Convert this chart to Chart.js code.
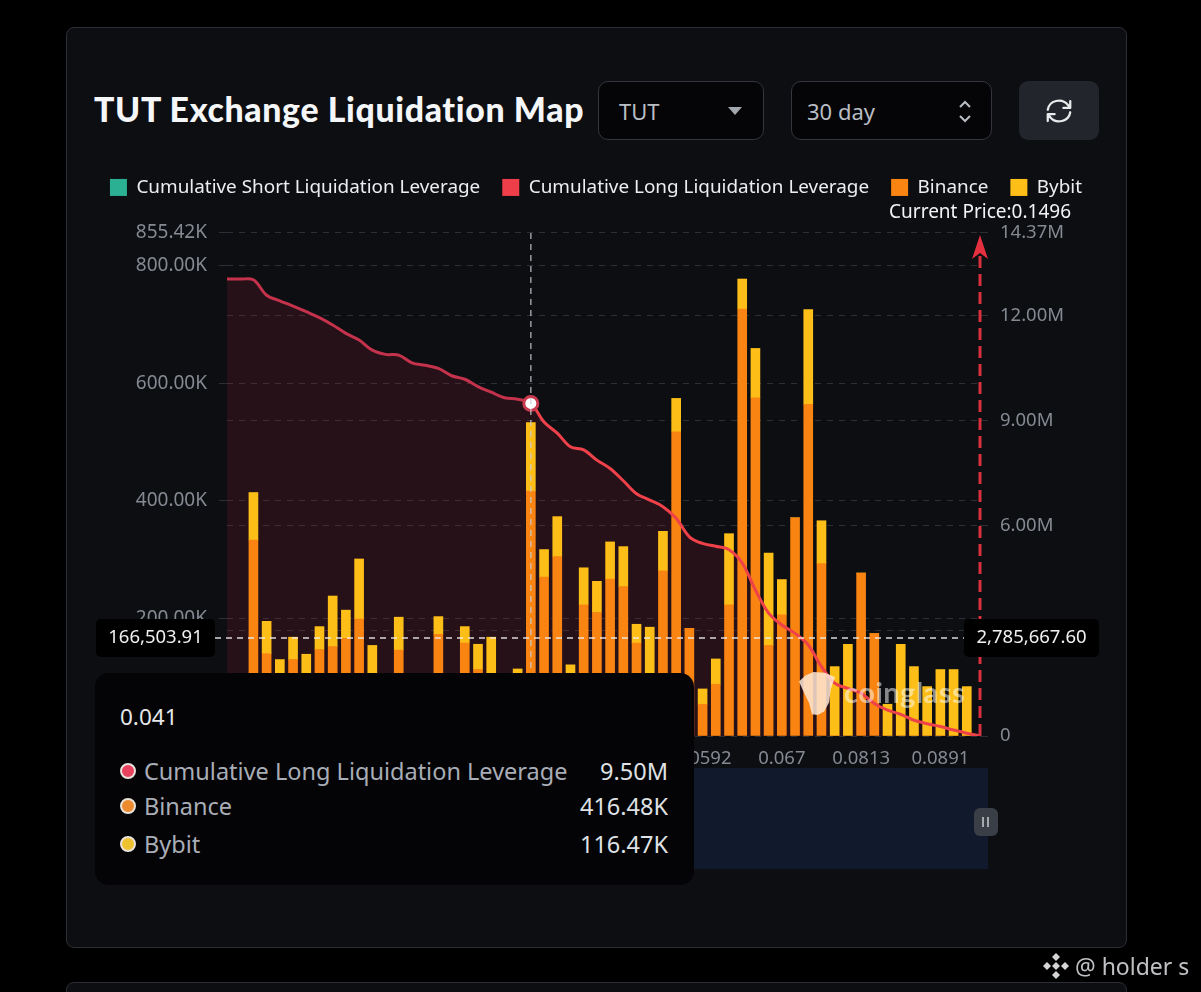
<!DOCTYPE html>
<html>
<head>
<meta charset="utf-8">
<title>TUT Exchange Liquidation Map</title>
<script src="https://cdn.jsdelivr.net/npm/chart.js@4"></script>
<style>
  html, body { margin: 0; background: #000; }
  body { width: 1201px; height: 992px; position: relative; overflow: hidden; font-family: "Noto Sans", sans-serif; }
  .card { position: absolute; left: 66px; top: 27px; width: 1059px; height: 919px; background: #0c0e12; border: 1px solid #2c2f35; border-radius: 8px; }
  .card2 { position: absolute; left: 66px; top: 982px; width: 1059px; height: 40px; background: #0c0e12; border: 1px solid #2c2f35; border-radius: 8px; }
  h1 { position: absolute; left: 94px; top: 87px; margin: 0; font: 900 33.8px/44px Lato, sans-serif; color: #f4f6f8; letter-spacing: 0.65px; white-space: nowrap; }
  .ctl { position: absolute; top: 81px; height: 57px; background: #050507; border: 1px solid #33363c; border-radius: 10px; color: #b9bdc4; font-size: 22px; line-height: 59px; box-sizing: content-box; }
  .ctl span { position: absolute; left: 20px; }
  .ctl svg { position: absolute; }
  #refresh { position: absolute; left: 1019px; top: 81px; width: 80px; height: 59px; background: #22252b; border-radius: 9px; }
  #refresh svg { position: absolute; left: 25px; top: 15px; }
  #slider { position: absolute; left: 227px; top: 768px; width: 761px; height: 101px; background: #101a2c; }
  #handle { position: absolute; left: 974px; top: 808px; width: 24px; height: 28px; background: #3a3e46; border-radius: 6px; }
  #handle::after { content: ""; position: absolute; left: 8px; top: 9px; width: 3px; height: 10px; border-left: 2px solid #a4a8af; border-right: 2px solid #a4a8af; }
  canvas { position: absolute; left: 0; top: 0; }
  #mark { position: absolute; left: 844px; top: 674px; font: 700 29px/36px Lato, sans-serif; color: rgba(255,255,255,0.5); letter-spacing: 0.5px; }
  #markIcon { position: absolute; left: 799px; top: 672px; width: 36px; height: 43px; background: rgba(255,232,214,0.85);
    clip-path: polygon(0 22%, 18% 8%, 40% 0, 72% 2%, 100% 12%, 88% 40%, 84% 70%, 70% 92%, 52% 100%, 36% 98%, 28% 72%, 14% 48%); }
  #tip { position: absolute; left: 95px; top: 673px; width: 599px; height: 212px; background: #040406; border-radius: 14px; color: #a9adb6; font-size: 23.5px; }
  #tip .head { position: absolute; left: 25px; top: 29px; color: #e6e7e9; font-size: 22.5px; line-height: 30px; }
  #tip .row { position: absolute; left: 25px; right: 26px; height: 36px; line-height: 36px; }
  #tip .dot { position: absolute; left: 0; top: 10px; width: 12px; height: 12px; border-radius: 50%; border: 2px solid #e9e2da; }
  #tip .lab { position: absolute; left: 24px; white-space: nowrap; }
  #tip .val { position: absolute; right: 0; color: #dfe1e4; }
  #sign { position: absolute; left: 1075px; top: 948px; color: #bfc1c4; font-size: 23px; line-height: 36px; white-space: nowrap; }
  #signIcon { position: absolute; left: 1042px; top: 952px; }
</style>
</head>
<body>
<div class="card"></div>
<div class="card2"></div>
<h1>TUT Exchange Liquidation Map</h1>
<div class="ctl" style="left:598px;width:164px"><span>TUT</span>
  <svg style="left:129px;top:25px" width="14" height="8"><path d="M0 0h14l-7 8z" fill="#a3a7ae"/></svg></div>
<div class="ctl" style="left:791px;width:199px"><span style="left:15px">30 day</span>
  <svg style="left:166px;top:17px" width="14" height="25" fill="none" stroke="#b9bdc4" stroke-width="2"><path d="M2 8l5-5 5 5M2 17l5 5 5-5"/></svg></div>
<div id="refresh"><svg width="30" height="30" viewBox="0 0 24 24" fill="none" stroke="#e8eaec" stroke-width="1.8" stroke-linecap="round" stroke-linejoin="round"><path d="M3 11a9 8.5 0 0 1 16-4l2 2.5M21 4v5.5h-5.5M21 13a9 8.5 0 0 1-16 4l-2-2.5M3 20v-5.5h5.5"/></svg></div>
<div id="slider"></div>
<div id="handle"></div>
<canvas id="chart" width="1201" height="992"></canvas>
<div id="markIcon"></div>
<div id="mark">coinglass</div>
<div id="tip"></div>
<svg id="signIcon" width="28" height="28" viewBox="0 0 28 28" fill="#d4d5d7"><path d="M14 1l4 4-4 4-4-4zM5 10l4 4-4 4-4-4zM23 10l4 4-4 4-4-4zM14 10l4 4-4 4-4-4zM14 19l4 4-4 4-4-4z"/></svg>
<div id="sign">@ holder s</div>
<script>
const prices = [
  "0.0111", "0.0124", "0.0137", "0.0150", "0.0163", "0.0176", "0.0189", "0.0202", "0.0215", "0.0228",
  "0.0241", "0.0254", "0.0267", "0.0280", "0.0293", "0.0306", "0.0319", "0.0332", "0.0345", "0.0358",
  "0.0371", "0.0384", "0.0397", "0.041", "0.0424", "0.0438", "0.0452", "0.0466", "0.048", "0.0494",
  "0.0508", "0.0522", "0.0536", "0.055", "0.0564", "0.0578", "0.0592", "0.0605", "0.0618", "0.0631",
  "0.0644", "0.0657", "0.067", "0.0694", "0.0718", "0.0742", "0.0766", "0.079", "0.0813", "0.0826",
  "0.0839", "0.0852", "0.0865", "0.0878", "0.0891", "0.0904", "0.0917", "0.093"
];
// K
const binance = [
  0, 0, 333, 140, 63, 130, 73, 147, 152, 166,
  199, 73, 0, 146, 0, 0, 173, 0, 158, 113,
  63, 0, 73, 416.48, 270, 305, 63, 223, 210, 267,
  254, 158, 73, 281, 517, 183, 54, 88, 223, 726,
  575, 154, 206, 371, 564, 293, 0, 0, 277, 174,
  0, 0, 0, 0, 0, 0, 0, 0
];
const bybit = [
  0, 0, 81, 55, 67, 38, 66, 39, 86, 48,
  102, 81, 0, 56, 0, 0, 30, 0, 28, 43,
  105, 0, 41, 116.47, 47, 68, 58, 63, 53, 63,
  68, 32, 112, 67, 57, 0, 26, 43, 121, 51,
  84, 157, 60, 0, 161, 73, 118, 156, 0, 0,
  54, 156, 118, 84, 113, 113, 84, 0
];
// M, right axis
const cumulativeLong = [
  13.05, 13.05, 13.03, 12.59, 12.43, 12.28, 12.12, 11.95, 11.74, 11.5,
  11.31, 11.02, 10.9, 10.88, 10.66, 10.59, 10.5, 10.29, 10.19, 9.98,
  9.82, 9.66, 9.62, 9.5, 8.97, 8.65, 8.26, 8.17, 7.88, 7.64,
  7.29, 6.92, 6.74, 6.55, 6.22, 5.69, 5.5, 5.42, 5.32, 4.94,
  4.17, 3.51, 3.17, 2.93, 2.6, 1.98, 1.51, 1.36, 1.22, 0.93,
  0.74, 0.62, 0.45, 0.35, 0.27, 0.17, 0.08, 0
];
const cumulativeShort = [];
const leftTicks = [0, 200, 400, 600, 800, 855.42];
const rightTicks = [0, 3, 6, 9, 12, 14.37];

const hoverIndex = 23;
const hoverLeft = 166.50391;
const font = "'Noto Sans'";
const gridColor = "#2b2e34";
const tickColor = "#858a92";

// gap between legend and plot
const legendMargin = {
  id: "legendMargin",
  beforeInit(chart) {
    const fit = chart.legend.fit;
    chart.legend.fit = function () {
      fit.call(this);
      this.height += 26;
    };
  },
};

const crosshair = {
  id: "crosshair",
  afterDatasetsDraw(chart) {
    const { ctx, chartArea, scales } = chart;
    const x = scales.x.getPixelForValue(hoverIndex);
    const y = scales.y.getPixelForValue(hoverLeft);
    ctx.save();
    // hover lines
    ctx.lineWidth = 1.5;
    ctx.setLineDash([6, 5]);
    ctx.strokeStyle = "rgba(200,204,210,0.75)";
    ctx.beginPath();
    ctx.moveTo(x, chartArea.top);
    ctx.lineTo(x, chartArea.bottom);
    ctx.stroke();
    ctx.strokeStyle = "rgba(240,240,240,0.9)";
    ctx.beginPath();
    ctx.moveTo(215, y);
    ctx.lineTo(964, y);
    ctx.stroke();
    // current price marker
    const px = scales.x.getPixelForValue(prices.length - 1);
    ctx.strokeStyle = "#d9303f";
    ctx.lineWidth = 3;
    ctx.setLineDash([12, 6]);
    ctx.beginPath();
    ctx.moveTo(px, chartArea.bottom);
    ctx.lineTo(px, chartArea.top + 18);
    ctx.stroke();
    ctx.setLineDash([]);
    ctx.fillStyle = "#e5303f";
    ctx.beginPath();
    ctx.moveTo(px, chartArea.top + 2);
    ctx.lineTo(px + 8, chartArea.top + 26);
    ctx.lineTo(px, chartArea.top + 20);
    ctx.lineTo(px - 8, chartArea.top + 26);
    ctx.closePath();
    ctx.fill();
    ctx.font = "19px " + font;
    ctx.textBaseline = "middle";
    ctx.textAlign = "right";
    ctx.fillStyle = "#f2f3f4";
    ctx.fillText("Current Price:0.1496", 1071, chartArea.top - 20);
    // axis pointer labels
    ctx.font = "18.5px " + font;
    ctx.textAlign = "center";
    [[96, 119, "166,503.91"], [964, 135, "2,785,667.60"]].forEach(([bx, bw, text]) => {
      ctx.fillStyle = "#000";
      ctx.beginPath();
      ctx.roundRect(bx, y - 19, bw, 38, 5);
      ctx.fill();
      ctx.fillStyle = "#f0f0f0";
      ctx.fillText(text, bx + bw / 2, y);
    });
    ctx.restore();
  },
};

new Chart(document.getElementById("chart"), {
  data: {
    labels: prices,
    datasets: [
      { type: "line", label: "Cumulative Short Liquidation Leverage", data: cumulativeShort, yAxisID: "y1",
        borderColor: "#2bb094", backgroundColor: "#2bb094", order: 0 },
      {
        type: "line",
        label: "Cumulative Long Liquidation Leverage",
        data: cumulativeLong,
        yAxisID: "y1",
        order: 0,
        borderColor: "#ee3e49",
        backgroundColor: "rgba(238,40,80,0.12)",
        borderWidth: 3,
        tension: 0.35,
        fill: "origin",
        pointRadius: (c) => (c.dataIndex === hoverIndex ? 7 : 0),
        pointBackgroundColor: "#fff",
        pointBorderColor: "#c93a50",
        pointBorderWidth: 3,
        segment: { borderColor: (c) => (c.p1DataIndex <= hoverIndex ? "#c4324c" : "#ee4149") },
      },
      { type: "bar", label: "Binance", data: binance, yAxisID: "y", stack: "a", order: 1,
        backgroundColor: "#f98412", barThickness: 9 },
      { type: "bar", label: "Bybit", data: bybit, yAxisID: "y", stack: "a", order: 1,
        backgroundColor: "#fdbf17", barThickness: 9 },
    ],
  },
  plugins: [legendMargin, crosshair],
  options: {
    responsive: false,
    animation: false,
    devicePixelRatio: 1,
    layout: { padding: { left: 20, right: 29, top: 156, bottom: 216 } },
    scales: {
      x: {
        offset: false,
        stacked: true,
        grid: { display: false, drawTicks: false },
        border: { display: false },
        ticks: {
          autoSkip: false,
          maxRotation: 0,
          padding: 12,
          color: tickColor,
          font: { family: font, size: 18.5 },
          callback: (v, i) => (i % 6 === 0 ? prices[i] : ""),
        },
        afterFit: (s) => { s.height = 40; },
      },
      y: {
        position: "left",
        stacked: true,
        min: 0,
        max: 855.42,
        afterBuildTicks: (s) => { s.ticks = leftTicks.map((value) => ({ value })); },
        afterFit: (s) => { s.width = 207; },
        grid: { color: gridColor, tickLength: 8, tickColor: gridColor },
        border: { display: false, dash: [6, 6] },
        ticks: { color: tickColor, padding: 12, font: { family: font, size: 19 },
          callback: (v) => (v === 0 ? "" : v.toFixed(2) + "K") },
      },
      y1: {
        position: "right",
        min: 0,
        max: 14.37,
        afterBuildTicks: (s) => { s.ticks = rightTicks.map((value) => ({ value })); },
        afterFit: (s) => { s.width = 192; },
        grid: { color: gridColor, tickLength: 8, tickColor: gridColor },
        border: { display: false, dash: [6, 6] },
        ticks: { color: tickColor, padding: 12, font: { family: font, size: 18.5 },
          callback: (v) => (v === 0 ? "0" : v.toFixed(2) + "M") },
      },
    },
    plugins: {
      filler: { drawTime: "beforeDatasetsDraw" },
      tooltip: { enabled: false },
      legend: {
        position: "top",
        labels: {
          boxWidth: 17,
          boxHeight: 17,
          padding: 22,
          color: "#eceef0",
          font: { family: font, size: 18.9 },
          generateLabels: (chart) => chart.data.datasets.map((d, i) => ({
            text: d.label,
            fillStyle: i === 1 ? "#ee3e49" : d.backgroundColor,
            lineWidth: 0,
            strokeStyle: "transparent",
            fontColor: "#eceef0",
            datasetIndex: i,
          })),
        },
      },
    },
  },
});

// hover box, same values as the arrays
const tipRows = [
  ["Cumulative Long Liquidation Leverage", cumulativeLong[hoverIndex].toFixed(2) + "M", "#e8425e", 80],
  ["Binance", binance[hoverIndex].toFixed(2) + "K", "#ec8a2d", 115],
  ["Bybit", bybit[hoverIndex].toFixed(2) + "K", "#eec22e", 153],
];
document.getElementById("tip").innerHTML = '<div class="head">' + prices[hoverIndex] + "</div>" +
  tipRows.map(([lab, val, col, top]) =>
    '<div class="row" style="top:' + top + 'px"><i class="dot" style="background:' + col + '"></i>' +
    '<span class="lab">' + lab + '</span><span class="val">' + val + "</span></div>").join("");
</script>
</body>
</html>
